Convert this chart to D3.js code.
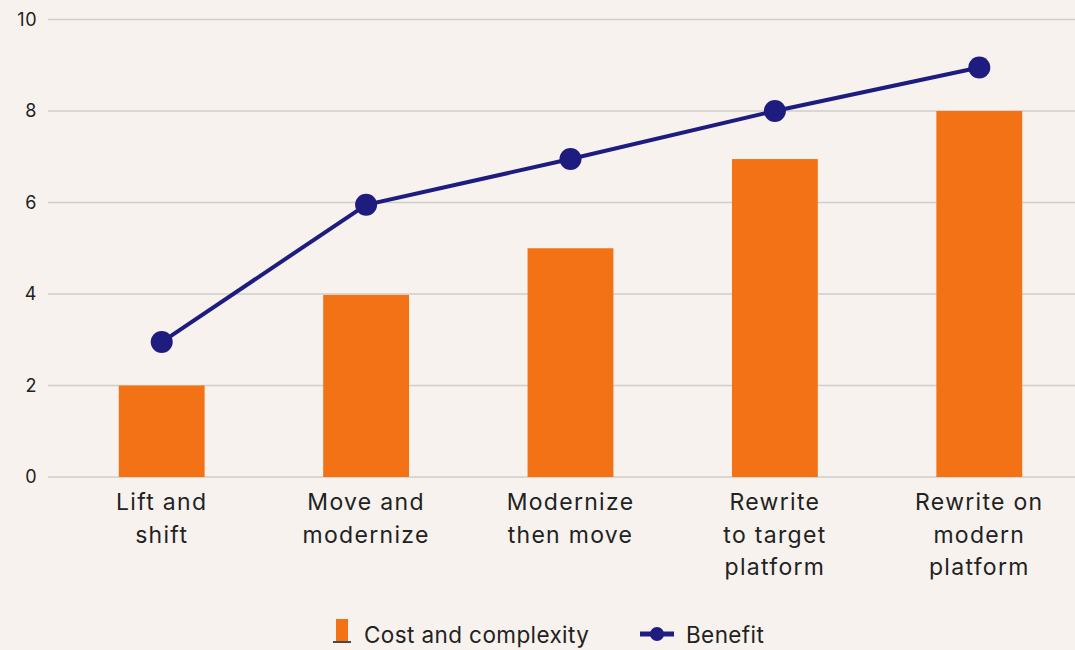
<!DOCTYPE html>
<html><head><meta charset="utf-8">
<script src="https://cdn.jsdelivr.net/npm/d3@7"></script>
<style>
html,body{margin:0;padding:0;background:#f7f2ee;}
svg{display:block;font-family:Inter, "Open Sans", sans-serif;}
</style></head>
<body><svg id="c" width="1075" height="650"></svg>
<script>
const categories = [["Lift and","shift"],["Move and","modernize"],["Modernize","then move"],["Rewrite","to target","platform"],["Rewrite on","modern","platform"]];
const costValues = [2, 3.98, 5, 6.95, 8];
const benefitValues = [2.95, 5.95, 6.95, 8, 8.95];
const yTicks = [0, 2, 4, 6, 8, 10];
const seriesNames = ["Cost and complexity", "Benefit"];

const svg = d3.select("#c");
const orange = "#f47216", navy = "#1f1c80", grid = "#d0cdca", text = "#222";
const y = d3.scaleLinear().domain([0, 10]).range([477, 19.5]);
const x = d3.scaleBand().domain(d3.range(categories.length)).range([59.5, 1081.5]).paddingInner(0.58).paddingOuter(0.29);

// gridlines
svg.append("g").selectAll("line").data(yTicks).join("line")
  .attr("x1", 48).attr("x2", 1075)
  .attr("y1", d => y(d)).attr("y2", d => y(d))
  .attr("stroke", grid).attr("stroke-width", 1.5);
svg.append("g").selectAll("text").data(yTicks).join("text")
  .attr("x", 37).attr("y", d => y(d)).attr("dy", "0.36em")
  .attr("text-anchor", "end").attr("font-size", 18).attr("letter-spacing", 0.5).attr("fill", text)
  .text(d => d);

// bars
svg.append("g").selectAll("rect").data(costValues).join("rect")
  .attr("x", (d, i) => x(i)).attr("width", x.bandwidth())
  .attr("y", d => y(d)).attr("height", d => y(0) - y(d))
  .attr("fill", orange);

// line
const cx = i => x(i) + x.bandwidth() / 2;
svg.append("path").datum(benefitValues)
  .attr("d", d3.line().x((d, i) => cx(i)).y(d => y(d)))
  .attr("fill", "none").attr("stroke", navy).attr("stroke-width", 4);
svg.append("g").selectAll("circle").data(benefitValues).join("circle")
  .attr("cx", (d, i) => cx(i)).attr("cy", d => y(d)).attr("r", 11)
  .attr("fill", navy);

// x labels
const xl = svg.append("g").selectAll("text").data(categories).join("text")
  .attr("text-anchor", "middle").attr("font-size", 23).attr("letter-spacing", 1.3).attr("fill", text)
  .attr("x", (d, i) => cx(i)).attr("y", 510);
xl.selectAll("tspan").data(d => d).join("tspan")
  .attr("x", function() { return d3.select(this.parentNode).attr("x"); })
  .attr("dy", (d, j) => j ? 32.5 : 0).text(d => d);

// legend
const lg = svg.append("g");
lg.append("rect").attr("x", 336).attr("y", 619).attr("width", 12).attr("height", 22).attr("fill", orange);
lg.append("line").attr("x1", 333).attr("x2", 351).attr("y1", 642).attr("y2", 642).attr("stroke", "#111").attr("stroke-width", 1.5);
lg.append("text").attr("x", 364).attr("y", 643).attr("font-size", 22.5).attr("letter-spacing", 0.4).attr("fill", text).text(seriesNames[0]);
lg.append("line").attr("x1", 640).attr("x2", 674).attr("y1", 634).attr("y2", 634).attr("stroke", navy).attr("stroke-width", 5);
lg.append("circle").attr("cx", 657).attr("cy", 634).attr("r", 7).attr("fill", navy);
lg.append("text").attr("x", 686).attr("y", 643).attr("font-size", 22.5).attr("letter-spacing", 0.4).attr("fill", text).text(seriesNames[1]);
</script></body></html>
